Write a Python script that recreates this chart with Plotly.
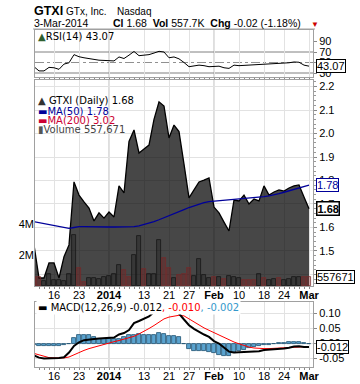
import plotly.graph_objects as go

W, H = 360, 384
PL, PR = 35, 313  # plot area left/right in px

dates = (["2013-12-%02d" % d for d in [10, 11, 12, 13, 16, 17, 18, 19, 20, 23, 24, 26, 27, 30, 31]]
         + ["2014-01-%02d" % d for d in [2, 3, 6, 7, 8, 9, 10, 13, 14, 15, 16, 17, 21, 22, 23, 24, 27, 28, 29, 30, 31]]
         + ["2014-02-%02d" % d for d in [3, 4, 5, 6, 7, 10, 11, 12, 13, 14, 18, 19, 20, 21, 24, 25, 26, 27, 28]]
         + ["2014-03-03"])

tick_dates = ["2013-12-16", "2013-12-23", "2014-01-02", "2014-01-13", "2014-01-21", "2014-01-27",
              "2014-02-03", "2014-02-10", "2014-02-18", "2014-02-24", "2014-03-03"]
tick_text = ["16", "23", "<b>2014</b>", "13", "21", "27", "<b>Feb</b>", "10", "18", "24", "<b>Mar</b>"]

close = [1.526, 1.385, 1.385, 1.449, 1.449, 1.385, 1.476, 1.526, 1.794, 1.738,
         1.709, 1.683, 1.628, 1.662, 1.640, 1.666, 1.645, 1.777, 1.747, 1.966,
         2.015, 1.917, 1.934, 1.951, 2.060, 2.135, 2.117, 1.981, 2.036, 2.008,
         1.870, 1.726, 1.760, 1.794, 1.802, 1.811, 1.687, 1.662, 1.623, 1.585,
         1.717, 1.713, 1.738, 1.700, 1.721, 1.713, 1.777, 1.738, 1.751, 1.760,
         1.755, 1.768, 1.777, 1.781, 1.730, 1.680]

ma50 = [1.625, 1.621, 1.617, 1.613, 1.609, 1.605, 1.600, 1.596, 1.600, 1.604,
        1.604, 1.603, 1.603, 1.602, 1.602, 1.602, 1.602, 1.602, 1.602, 1.602,
        1.604, 1.607, 1.612, 1.618, 1.625, 1.633, 1.641, 1.649, 1.658, 1.667,
        1.676, 1.685, 1.693, 1.700, 1.706, 1.710, 1.712, 1.714, 1.715, 1.716,
        1.717, 1.719, 1.721, 1.724, 1.726, 1.728, 1.731, 1.735, 1.738, 1.744,
        1.750, 1.756, 1.762, 1.768, 1.774, 1.780]

volume = [600000, 600000, 350000, 750000, 400000, 400000, 300000, 770000, 3300000, 1180000,
          280000, 500000, 530000, 430000, 600000, 650000, 770000, 1350000, 1030000, 600000,
          2000000, 3200000, 1100000, 750000, 750000, 2970000, 1800000, 1150000, 500000, 700000,
          770000, 1150000, 650000, 1750000, 700000, 500000, 600000, 560000, 430000, 650000,
          600000, 500000, 390000, 390000, 390000, 770000, 500000, 390000, 450000, 500000,
          390000, 430000, 600000, 600000, 600000, 557671]

vol_down = [1, 1, 0, 0, 0, 0, 0, 0, 0, 1,
            1, 0, 0, 0, 0, 0, 0, 0, 1, 1,
            0, 0, 1, 0, 0, 0, 1, 1, 0, 1,
            1, 1, 0, 0, 0, 0, 1, 0, 1, 0,
            0, 0, 1, 1, 1, 0, 1, 0, 0, 1,
            0, 0, 0, 0, 1, 1]

rsi = [42, 34, 34, 40.7, 40, 37, 47, 49.5, 65, 61,
       59, 57.5, 55, 54.4, 54, 53.8, 53, 60.6, 57.6, 64,
       71, 63, 63.5, 65, 68, 71.3, 70, 59, 60.6, 57,
       50, 42, 43.5, 45, 44, 42, 42.5, 43, 40, 38.8,
       45, 44, 44.5, 45, 45.5, 46, 46.5, 46.5, 47, 47.5,
       48.2, 49.5, 51, 50.5, 45, 43.07]

macd = [-0.040, -0.047, -0.050, -0.050, -0.049, -0.048, -0.046, -0.030, -0.008, 0.004,
        0.011, 0.014, 0.015, 0.017, 0.018, 0.018, 0.020, 0.030, 0.035, 0.045,
        0.068, 0.075, 0.082, 0.090, 0.105, 0.118, 0.125, 0.120, 0.112, 0.100,
        0.080, 0.061, 0.049, 0.039, 0.030, 0.022, 0.008, 0.000, -0.015, -0.027,
        -0.030, -0.029, -0.028, -0.028, -0.028, -0.026, -0.022, -0.021, -0.019, -0.018,
        -0.017, -0.014, -0.010, -0.009, -0.012, -0.012]

signal = [-0.033, -0.038, -0.043, -0.047, -0.048, -0.048, -0.048, -0.045, -0.037, -0.030,
          -0.023, -0.017, -0.012, -0.007, -0.002, 0.003, 0.006, 0.010, 0.015, 0.020,
          0.024, 0.032, 0.040, 0.050, 0.060, 0.071, 0.082, 0.088, 0.092, 0.094,
          0.092, 0.082, 0.070, 0.061, 0.052, 0.044, 0.036, 0.028, 0.020, 0.012,
          0.005, -0.001, -0.007, -0.012, -0.015, -0.017, -0.017, -0.017, -0.016, -0.015,
          -0.015, -0.013, -0.012, -0.011, -0.010, -0.010]

hist = [-0.006, -0.009, -0.009, -0.008, -0.008, -0.007, -0.006, -0.002, 0.019, 0.028,
        0.029, 0.028, 0.021, 0.016, 0.016, 0.015, 0.015, 0.016, 0.021, 0.028,
        0.030, 0.032, 0.030, 0.029, 0.029, 0.035, 0.033, 0.024, 0.024, 0.021,
        0.000, -0.018, -0.024, -0.026, -0.026, -0.028, -0.031, -0.037, -0.040, -0.043,
        -0.033, -0.024, -0.020, -0.016, -0.013, -0.008, -0.006, -0.004, -0.003, 0.001,
        0.002, 0.004, 0.005, 0.005, 0.003, -0.002]

idx = list(range(len(dates)))
tick_vals = [dates.index(d) for d in tick_dates]


def dom(top, bottom):
    return [1 - bottom / H, 1 - top / H]


def px_x(px):
    return (px - PL) / (PR - PL)


def py(px):
    return 1 - px / H


ARIAL = "Liberation Sans, Arial, sans-serif"
DEJA = "DejaVu Sans, Verdana, sans-serif"

fig = go.Figure()

# RSI
fig.add_trace(go.Scatter(x=idx, y=rsi, mode="lines", line=dict(color="#000000", width=1),
                         xaxis="x", yaxis="y", hoverinfo="skip"))
# Price area
fig.add_trace(go.Scatter(x=idx, y=close, mode="lines", fill="tozeroy",
                         fillcolor="rgba(0,0,0,0.72)", line=dict(color="#000000", width=1.3),
                         xaxis="x2", yaxis="y2", hoverinfo="skip"))
# MA50
fig.add_trace(go.Scatter(x=idx, y=ma50, mode="lines", line=dict(color="#000099", width=1.3),
                         xaxis="x2", yaxis="y2", hoverinfo="skip"))
# Volume
vcol = ["rgba(140,20,20,0.30)" if d else "rgba(0,0,0,0.22)" for d in vol_down]
vline = ["rgba(120,40,40,0.9)" if d else "rgba(20,20,20,0.9)" for d in vol_down]
fig.add_trace(go.Bar(x=idx, y=volume, width=0.95, marker=dict(color=vcol, line=dict(color=vline, width=0.8)),
                     xaxis="x2", yaxis="y4", hoverinfo="skip"))
# MACD
fig.add_trace(go.Bar(x=idx, y=hist, width=0.95, marker=dict(color="#5aa3cf", line=dict(color="#1d4f70", width=0.8)),
                     xaxis="x3", yaxis="y3", hoverinfo="skip"))
fig.add_trace(go.Scatter(x=idx, y=signal, mode="lines", line=dict(color="#ff0000", width=1),
                         xaxis="x3", yaxis="y3", hoverinfo="skip"))
fig.add_trace(go.Scatter(x=idx, y=macd, mode="lines", line=dict(color="#000000", width=2),
                         xaxis="x3", yaxis="y3", hoverinfo="skip"))

xr = [0.2, 55.8]
xcommon = dict(range=xr, tickvals=tick_vals, ticktext=tick_text, showgrid=True, gridcolor="#e2e2e2",
               gridwidth=1, showline=True, linecolor="#a0a0a0", mirror=True, zeroline=False, automargin=False,
               tickfont=dict(family=ARIAL, size=11, color="#000"), ticks="outside", ticklen=2,
               ticklabelstandoff=-3,
               tickcolor="#888", minor=dict(dtick=1, tick0=0, ticks="outside", ticklen=2, tickcolor="#888", showgrid=False))
ycommon = dict(showline=True, linecolor="#a0a0a0", mirror=True, zeroline=False, automargin=False,
               tickfont=dict(family=ARIAL, size=11, color="#000"), side="right",
               ticks="outside", ticklen=3, tickcolor="#888")

fig.update_layout(
    width=W, height=H, margin=dict(l=PL, r=W - PR, t=0, b=0, autoexpand=False),
    paper_bgcolor="white", plot_bgcolor="white", showlegend=False, bargap=0,
    xaxis=dict(xcommon, anchor="y", showticklabels=False),
    xaxis2=dict(xcommon, anchor="y2"),
    xaxis3=dict(xcommon, anchor="y3"),
    yaxis=dict(ycommon, domain=dom(30, 77), range=[22.4, 111.9], tickvals=[30, 50, 70, 90],
               showgrid=False),
    yaxis2=dict(ycommon, domain=dom(80, 286), range=[1.351, 2.2277], dtick=0.1, tick0=1.4,
                tickformat=".1f", showgrid=True, gridcolor="#e2e2e2",
                minor=dict(dtick=0.02, ticks="outside", ticklen=2, tickcolor="#999", showgrid=False)),
    yaxis4=dict(overlaying="y2", side="left", range=[0, 13.29e6], tickvals=[2e6, 4e6], automargin=False,
                ticktext=["2M", "4M"], showgrid=False, zeroline=False, showline=False,
                tickfont=dict(family=ARIAL, size=11, color="#000")),
    yaxis3=dict(ycommon, domain=dom(302, 367), range=[-0.0783, 0.1383], tickvals=[-0.05, 0, 0.05, 0.10],
                ticktext=["-0.05", "0.00", "0.05", "0.10"], showgrid=True, gridcolor="#e2e2e2"),
)

shapes = []
# darker month separators
for d in ["2014-01-02", "2014-02-03"]:
    for xa, ya in [("x", "y"), ("x2", "y2"), ("x3", "y3")]:
        shapes.append(dict(type="line", xref=xa, yref=ya + " domain", x0=dates.index(d), x1=dates.index(d),
                           y0=0, y1=1, line=dict(color="#bdbdbd", width=1), layer="below"))
# RSI reference lines
for lv, dash, col in [(70, "solid", "#808080"), (30, "solid", "#808080"), (50, "dashdot", "#909090")]:
    shapes.append(dict(type="line", xref="x domain", yref="y", x0=0, x1=1, y0=lv, y1=lv,
                       line=dict(color=col, width=1, dash=dash), layer="below"))
# header rule
shapes.append(dict(type="line", xref="paper", yref="paper", x0=px_x(33), x1=px_x(315), y0=py(29), y1=py(29),
                   line=dict(color="#a0a0a0", width=1)))
fig.update_layout(shapes=shapes)

ann = []


def txt(x, y, text, size=11, family=ARIAL, color="#000", anchor="left", bg=None):
    d = dict(x=px_x(x), y=py(y), xref="paper", yref="paper", text=text, showarrow=False,
             xanchor=anchor, yanchor="middle", font=dict(family=family, size=size, color=color))
    if bg:
        d["bgcolor"] = bg
    ann.append(d)


# header
txt(32, 11, "<b>GTXI</b>", size=12.5)
txt(64, 11.5, "GTx, Inc.", size=10)
txt(115, 11.5, "Nasdaq", size=10)
txt(32, 23.5, "3-Mar-2014", size=10.5)
txt(111, 23.5, "<b>Cl</b> 1.68  <b>Vol</b> 557.7K  <b>Chg</b> -0.02 (-1.18%)", size=10.5)
txt(309, 24, "▼", size=8, color="#cc0000")

# panel labels
txt(36, 37, "<span style='color:#2f5f2f'>▲</span>RSI(14) 43.07", size=10, family=DEJA)
txt(36, 101, "<span style='color:#333'>▲</span> GTXI (Daily) 1.68", size=10, family=DEJA)
txt(36, 111, "<span style='color:#000099'>▬</span>MA(50) 1.78", size=10, family=DEJA, color="#000099")
txt(36, 120.5, "<span style='color:#cc0033'>▬</span>MA(200) 3.02", size=10, family=DEJA, color="#cc0033")
txt(36, 129.5, "<span style='color:#555'>▮</span>Volume 557,671", size=10, family=DEJA, color="#444")
txt(36, 307, "▬ MACD(12,26,9) -0.012<span style='color:#ff0000'>, -0.010</span><span style='color:#3399cc'>, -0.002</span>",
    size=10, family=DEJA, bg="white")


def box(yref, yval, text, color="#000", bw=1):
    ann.append(dict(x=px_x(316), y=yval, xref="paper", yref=yref, text=text, showarrow=False,
                    xanchor="left", yanchor="middle", bgcolor="white", bordercolor=color,
                    borderwidth=bw, borderpad=0, font=dict(family=ARIAL, size=11, color=color)))


box("y", rsi[-1], "43.07")
box("y2", ma50[-1], "1.78", color="#000099")
box("y2", close[-1], "<b>1.68</b>", bw=1.5)
box("y4", volume[-1], "557671")
box("y3", macd[-1], "-0.012")

fig.update_layout(annotations=ann)
fig.write_html("out.html", config={"displayModeBar": False},
               post_script="document.body.style.margin='0';document.body.style.padding='0';")
